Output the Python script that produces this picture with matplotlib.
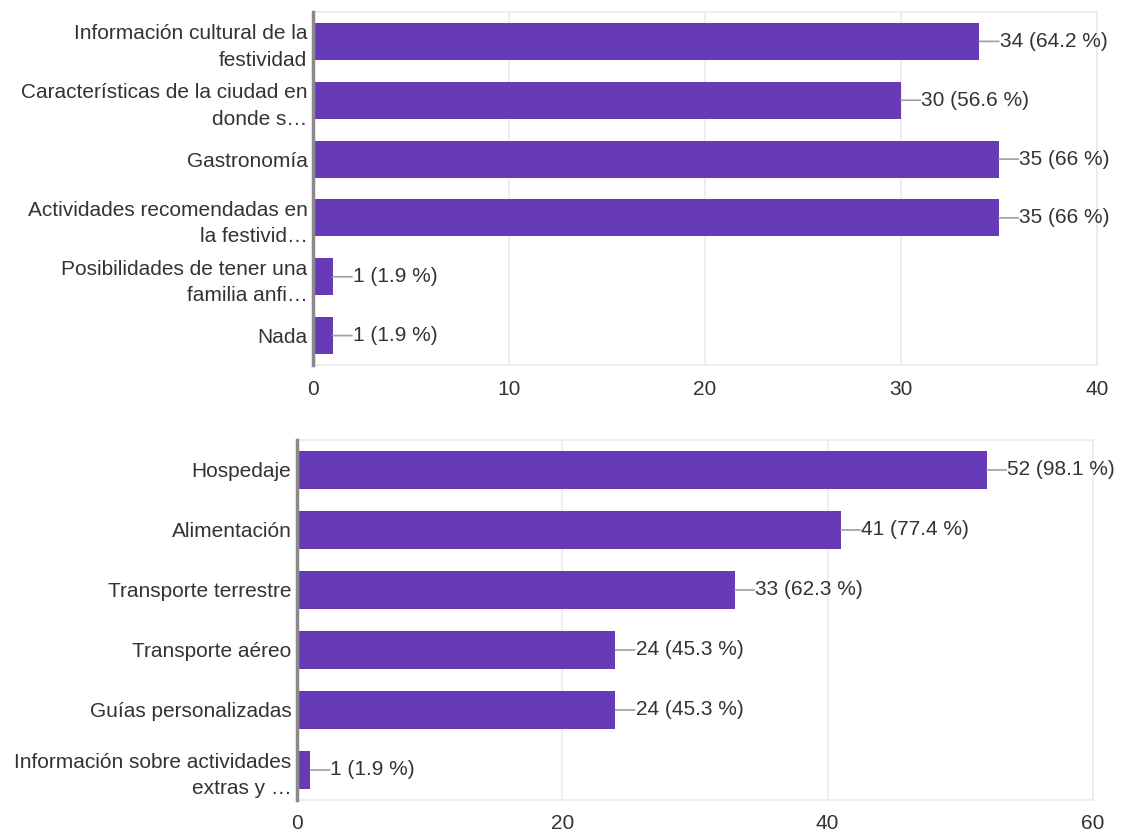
import matplotlib
matplotlib.use("Agg")
import matplotlib.pyplot as plt

plt.rcParams['font.family'] = ['Liberation Sans', 'DejaVu Sans']

# first question: what information respondents want
info_labels = ["Información cultural de la\nfestividad",
               "Características de la ciudad en\ndonde s…",
               "Gastronomía",
               "Actividades recomendadas en\nla festivid…",
               "Posibilidades de tener una\nfamilia anfi…",
               "Nada"]
info_counts = [34, 30, 35, 35, 1, 1]
info_pcts = ["64.2", "56.6", "66", "66", "1.9", "1.9"]
info_ticks = [0, 10, 20, 30, 40]

# second question: services respondents want
serv_labels = ["Hospedaje",
               "Alimentación",
               "Transporte terrestre",
               "Transporte aéreo",
               "Guías personalizadas",
               "Información sobre actividades\nextras y …"]
serv_counts = [52, 41, 33, 24, 24, 1]
serv_pcts = ["98.1", "77.4", "62.3", "45.3", "45.3", "1.9"]
serv_ticks = [0, 20, 40, 60]

BAR = "#673ab7"
TXT = "#333333"
GRID = "#ebebeb"
FS = 15

fig = plt.figure(figsize=(11.26, 8.32), dpi=100)
ax1 = fig.add_axes([0.278, 0.5613, 0.6963, 0.4243])
ax2 = fig.add_axes([0.2638, 0.0385, 0.7069, 0.4327])


def draw(ax, labels, counts, pcts, ticks, xpad):
    y = list(range(len(labels)))
    ax.barh(y, counts, height=0.63, color=BAR, zorder=3)
    ax.set_ylim(len(labels) - 0.5, -0.5)
    ax.set_xlim(ticks[0], ticks[-1])
    ax.set_xticks(ticks)
    ax.set_yticks(y)
    ax.set_yticklabels(labels, fontsize=FS, color=TXT, linespacing=1.5)
    ax.tick_params(axis='x', labelsize=FS, labelcolor=TXT, length=0, pad=xpad)
    ax.tick_params(axis='y', length=0, pad=4)
    ax.grid(axis='x', color=GRID, lw=1.2, zorder=0)
    for s in ['top', 'bottom', 'right']:
        ax.spines[s].set_color(GRID)
        ax.spines[s].set_linewidth(1.2)
    ax.spines['left'].set_color("#8a8a8a")
    ax.spines['left'].set_linewidth(2.5)
    ax.spines['left'].set_zorder(4)
    for yi, c, p in zip(y, counts, pcts):
        ax.annotate("", xy=(c, yi), xytext=(14, 0), textcoords='offset points',
                    arrowprops=dict(arrowstyle='-', color="#9e9e9e", lw=1.2,
                                    shrinkA=0, shrinkB=0))
        ax.annotate(f"{c} ({p} %)", xy=(c, yi), xytext=(14.5, 0),
                    textcoords='offset points', va='center', ha='left',
                    fontsize=FS, color=TXT, annotation_clip=False)


draw(ax1, info_labels, info_counts, info_pcts, info_ticks, 11)
draw(ax2, serv_labels, serv_counts, serv_pcts, serv_ticks, 10)

fig.savefig("out.png", dpi=100, facecolor="white")
